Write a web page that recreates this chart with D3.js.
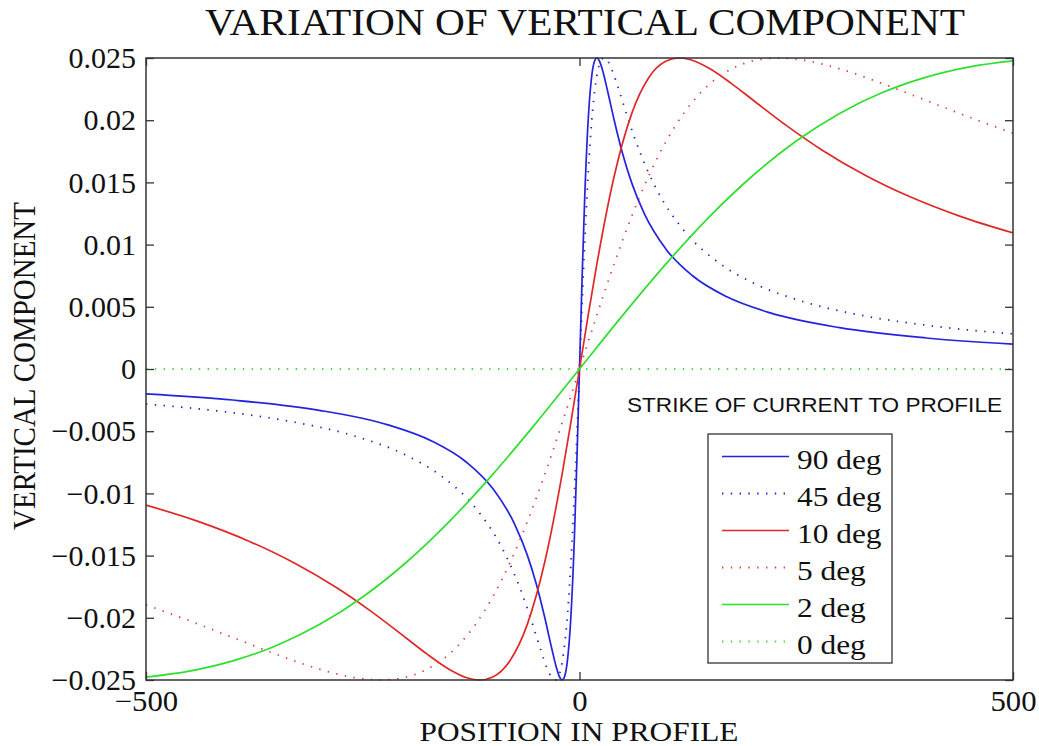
<!DOCTYPE html>
<html><head><meta charset="utf-8">
<script src="https://cdn.jsdelivr.net/npm/d3@7"></script>
<style>body{margin:0;background:#fff}svg{display:block}</style>
</head><body>
<svg id="c" width="1039" height="746"></svg>
<script>
// ---- data ----
const xTicks = [-500, 0, 500];
const yTicks = [-0.025, -0.02, -0.015, -0.01, -0.005, 0, 0.005, 0.01, 0.015, 0.02, 0.025];
const yTickLabels = ["\u22120.025","\u22120.02","\u22120.015","\u22120.01","\u22120.005","0","0.005","0.01","0.015","0.02","0.025"];

const x90 = [-500,-400,-300,-220,-170,-130,-100,-75,-60,-50,-40,-32,-27,-23,-20,-17,-14,-10,-6,-3,0,3,6,10,14,17,20,23,27,32,40,50,60,75,100,130,170,220,300,400,500];
const y90 = [-0.001997,-0.002494,-0.003319,-0.004508,-0.005802,-0.007514,-0.009615,-0.012448,-0.015,-0.017241,-0.02,-0.022472,-0.023915,-0.024758,-0.025,-0.024673,-0.02349,-0.02,-0.013761,-0.007335,0,0.007335,0.013761,0.02,0.02349,0.024673,0.025,0.024758,0.023915,0.022472,0.02,0.017241,0.015,0.012448,0.009615,0.007514,0.005802,0.004508,0.003319,0.002494,0.001997];

const x45 = [-500,-410,-330,-260,-200,-160,-120,-90,-70,-55,-45,-38,-32,-28,-25,-20,-15,-10,-5,0,5,10,15,20,25,28,32,38,45,55,70,90,120,160,200,260,330,410,500];
const y45 = [-0.002819,-0.003433,-0.004254,-0.005376,-0.006932,-0.008571,-0.011165,-0.014301,-0.017367,-0.020335,-0.022527,-0.023948,-0.02481,-0.024999,-0.024811,-0.02357,-0.020696,-0.015713,-0.008571,0,0.008571,0.015713,0.020696,0.02357,0.024811,0.024999,0.02481,0.023948,0.022527,0.020335,0.017367,0.014301,0.011165,0.008571,0.006932,0.005376,0.004254,0.003433,0.002819];

const x10 = [-500,-440,-380,-330,-280,-240,-200,-175,-150,-130,-115,-100,-80,-60,-40,-20,-10,0,10,20,40,60,80,100,115,130,150,175,200,240,280,330,380,440,500];
const y10 = [-0.010937,-0.012249,-0.01388,-0.015556,-0.017591,-0.019503,-0.021623,-0.022962,-0.024152,-0.024818,-0.025,-0.024752,-0.023427,-0.020487,-0.015496,-0.008428,-0.004308,0,0.004308,0.008428,0.015496,0.020487,0.023427,0.024752,0.025,0.024818,0.024152,0.022962,0.021623,0.019503,0.017591,0.015556,0.01388,0.012249,0.010937];

const x5 = [-500,-450,-400,-350,-300,-260,-229,-200,-180,-160,-140,-120,-100,-80,-60,-40,-20,0,20,40,60,80,100,120,140,160,180,200,229,260,300,350,400,450,500];
const y5 = [-0.018955,-0.020235,-0.021581,-0.022926,-0.02413,-0.024807,-0.025,-0.024766,-0.024281,-0.023458,-0.02223,-0.020532,-0.018312,-0.015542,-0.012236,-0.008458,-0.004325,0,0.004325,0.008458,0.012236,0.015542,0.018312,0.020532,0.02223,0.023458,0.024281,0.024766,0.025,0.024807,0.02413,0.022926,0.021581,0.020235,0.018955];

const x2 = [-500,-450,-400,-350,-300,-250,-200,-150,-100,-50,0,50,100,150,200,250,300,350,400,450,500];
const y2 = [-0.024769,-0.024289,-0.023466,-0.022242,-0.020546,-0.018325,-0.015555,-0.012248,-0.008467,-0.004329,0,0.004329,0.008467,0.012248,0.015555,0.018325,0.020546,0.022242,0.023466,0.024289,0.024769];

const x0 = [-500, 500];
const y0 = [0, 0];

const seriesNames = ["90 deg","45 deg","10 deg","5 deg","2 deg","0 deg"];
const seriesX = [x90, x45, x10, x5, x2, x0];
const seriesY = [y90, y45, y10, y5, y2, y0];

// ---- styles ----
const colors = ["#2323e0","#2323c8","#e02828","#e04040","#2ee02e","#3ee03e"];
const dotted = [false,true,false,true,false,true];
const DASH = "1.4,7.4";

const svg = d3.select("#c");
const L = 146, R = 1013, T = 58, B = 680;
const x = d3.scaleLinear().domain([-500,500]).range([L,R]);
const y = d3.scaleLinear().domain([-0.025,0.025]).range([B,T]);

svg.append("clipPath").attr("id","clip").append("rect")
  .attr("x",L).attr("y",T-1).attr("width",R-L).attr("height",B-T+2);

const line = d3.line().x(d=>x(d[0])).y(d=>y(d[1])).curve(d3.curveMonotoneX);
const g = svg.append("g").attr("clip-path","url(#clip)");
seriesX.forEach((xs,i)=>{
  const pts = xs.map((v,j)=>[v, seriesY[i][j]]);
  g.append("path").datum(pts).attr("d",line)
    .attr("fill","none").attr("stroke",colors[i])
    .attr("stroke-width", dotted[i] ? 1.8 : 1.7)
    .attr("stroke-dasharray", dotted[i] ? DASH : null);
});

// frame and axes
const serif = "'Liberation Serif','Times New Roman',serif";
const axB = d3.axisBottom(x).tickValues(xTicks).tickSize(-8).tickPadding(10)
  .tickFormat(d=> d<0 ? "\u2212"+Math.abs(d) : String(d));
const axT = d3.axisTop(x).tickValues(xTicks).tickSize(-8).tickFormat("");
const yFmt = d=> yTickLabels[yTicks.findIndex(t=>Math.abs(t-d)<1e-9)];
const axL = d3.axisLeft(y).tickValues(yTicks).tickSize(-8).tickPadding(10).tickFormat(yFmt);
const axR = d3.axisRight(y).tickValues(yTicks).tickSize(-8).tickFormat("");

function style(sel, fs){
  sel.select(".domain").remove();
  sel.selectAll("line").attr("stroke","#333").attr("stroke-width",1.3);
  sel.selectAll("text").attr("font-family",serif).attr("font-size",fs).attr("fill","#111");
}
const gb = svg.append("g").attr("transform",`translate(0,${B})`).call(axB).call(style, 29);
gb.selectAll("text").each(function(){
  const t = d3.select(this); const w = this.getComputedTextLength();
  t.attr("textLength", w*1.06).attr("lengthAdjust","spacingAndGlyphs");
});
svg.append("g").attr("transform",`translate(0,${T})`).call(axT).call(style, 30);
svg.append("g").attr("transform",`translate(${L},0)`).call(axL).call(style, 30);
svg.append("g").attr("transform",`translate(${R},0)`).call(axR).call(style, 30);

svg.append("rect").attr("x",L).attr("y",T).attr("width",R-L).attr("height",B-T)
  .attr("fill","none").attr("stroke","#333").attr("stroke-width",1.5);

// titles
svg.append("text").attr("x",585).attr("y",35).attr("text-anchor","middle")
  .attr("font-family",serif).attr("font-size",38).attr("fill","#111")
  .attr("textLength",760).attr("lengthAdjust","spacingAndGlyphs")
  .text("VARIATION OF VERTICAL COMPONENT");
svg.append("text").attr("x",579).attr("y",741).attr("text-anchor","middle")
  .attr("font-family",serif).attr("font-size",26.5).attr("fill","#111")
  .attr("textLength",319).attr("lengthAdjust","spacingAndGlyphs")
  .text("POSITION IN PROFILE");
svg.append("text").attr("transform",`translate(35,366) rotate(-90)`).attr("text-anchor","middle")
  .attr("font-family",serif).attr("font-size",32).attr("fill","#111")
  .attr("textLength",328).attr("lengthAdjust","spacingAndGlyphs")
  .text("VERTICAL COMPONENT");

svg.append("text").attr("x",627).attr("y",412)
  .attr("font-family","'Liberation Sans',Arial,sans-serif").attr("font-size",20).attr("fill","#111")
  .attr("textLength",375).attr("lengthAdjust","spacingAndGlyphs")
  .text("STRIKE OF CURRENT TO PROFILE");

// legend
const lg = svg.append("g");
lg.append("rect").attr("x",708).attr("y",434).attr("width",184).attr("height",229)
  .attr("fill","#fff").attr("stroke","#333").attr("stroke-width",1.3);
seriesNames.forEach((n,i)=>{
  const cy = 456.5 + i*37;
  lg.append("line").attr("x1",722).attr("x2",789).attr("y1",cy).attr("y2",cy)
    .attr("stroke",colors[i]).attr("stroke-width", dotted[i]?1.8:1.7)
    .attr("stroke-dasharray", dotted[i] ? DASH : null);
  const t = lg.append("text").attr("x",797).attr("y",cy+12)
    .attr("font-family",serif).attr("font-size",28).attr("fill","#111").text(n);
  const w = t.node().getComputedTextLength();
  t.attr("textLength", w*1.12).attr("lengthAdjust","spacingAndGlyphs");
});
</script>
</body></html>
